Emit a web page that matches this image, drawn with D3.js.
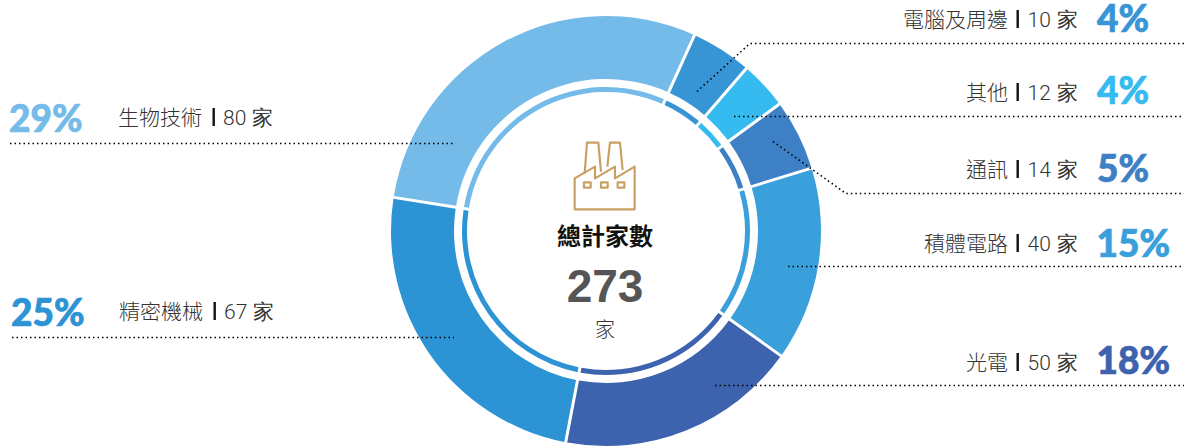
<!DOCTYPE html>
<html><head><meta charset="utf-8">
<script src="https://cdn.jsdelivr.net/npm/d3@7"></script>
<style>html,body{margin:0;padding:0;background:#fff}svg{display:block}</style>
</head><body><svg id="c" width="1184" height="447"></svg>
<script>
// Data
const categories = ["電腦及周邊","其他","通訊","積體電路","光電","精密機械","生物技術"];
const counts = [10,12,14,40,50,67,80];
const percents = ["4%","4%","5%","15%","18%","25%","29%"];
// Drawn sweep of every slice, degrees
const sweeps = [16.5,13,19.2,52.5,65.3,88.2,105.3];
const colors = ["#3795D6","#35BBF0","#3D80C5","#3AA0DB","#3D62AE","#2C93D5","#74BBEA"];
const totalLabel = "總計家數", totalValue = "273", unit = "家";

// Layout
const cx=606, cy=231, rad=Math.PI/180;
const startDeg=24.3;
const labelFont='"Noto Sans CJK TC"', numFont='Roboto', pctFont='Lato';
const rows=[
 {side:"r",base:27,pb:32,pe:1149,line:[[697,91],[750,43],[1184,43]]},
 {side:"r",base:100,pb:104,pe:1149,line:[[734,116],[1184,116]]},
 {side:"r",base:177,pb:182,pe:1149,line:[[773,141],[846,193],[1184,193]]},
 {side:"r",base:251,pb:257,pe:1170,line:[[788,266],[1184,266]]},
 {side:"r",base:370,pb:374,pe:1170,line:[[715,385],[1184,385]]},
 {side:"l",base:319,pb:326,ps:11,lx:119,bar:214,nx:224,line:[[12,337],[454,337]]},
 {side:"l",base:125,pb:132,ps:9,lx:118,bar:213,nx:223,line:[[10,143],[455,143]]}
];

const svg=d3.select("#c");
const pie=d3.pie().sort(null).value(d=>d).startAngle(startDeg*rad).endAngle((startDeg+360)*rad);
const arcs=pie(sweeps);
const g=svg.append("g").attr("transform",`translate(${cx},${cy})`);
const outer=d3.arc().innerRadius(152).outerRadius(215).padRadius(215).padAngle(3/215);
const inner=d3.arc().innerRadius(139).outerRadius(144).padRadius(140).padAngle(3/140);
g.selectAll("path.o").data(arcs).join("path").attr("class","o").attr("d",outer).attr("fill",(d,i)=>colors[i]);
g.selectAll("path.i").data(arcs).join("path").attr("class","i").attr("d",inner).attr("fill",(d,i)=>colors[i]);

// Leader lines
const lineGen=d3.line();
svg.selectAll("path.l").data(rows).join("path").attr("class","l")
  .attr("d",d=>lineGen(d.line)).attr("transform","translate(0,0.5)").attr("fill","none").attr("stroke","#000")
  .attr("stroke-width",1.6).attr("stroke-dasharray","1.5 3");

// Labels
rows.forEach((r,i)=>{
  const t=(x,y,s,a,f,size,w,col)=>svg.append("text").attr("x",x).attr("y",y).attr("text-anchor",a)
    .attr("font-family",f).attr("font-size",size).attr("font-weight",w).attr("fill",col).text(s);
  const lbl=categories[i], num=counts[i]+" "+unit;
  const pct=(x,a)=>t(x,r.pb,percents[i],a,pctFont,37,900,colors[i]).attr("stroke",colors[i]).attr("stroke-width",0.7);
  if(r.side==="r"){
    t(1008,r.base,lbl,"end",labelFont,21,300,"#333");
    svg.append("rect").attr("x",1016.5).attr("y",r.base-17).attr("width",2.4).attr("height",18).attr("fill","#111");
    t(1078,r.base,num,"end",numFont,21,300,"#333").attr("word-spacing",1);
    pct(r.pe,"end");
  } else {
    t(r.lx,r.base,lbl,"start",labelFont,21,300,"#333");
    svg.append("rect").attr("x",r.bar-.5).attr("y",r.base-17).attr("width",2.4).attr("height",18).attr("fill","#111");
    t(r.nx,r.base,num,"start",numFont,21,300,"#333").attr("word-spacing",1);
    pct(r.ps,"start");
  }
});

// Centre
const ic=svg.append("g").attr("transform","translate(520,120) scale(0.3333)")
  .attr("fill","none").attr("stroke","#C9A063").attr("stroke-width",6.5).attr("stroke-linejoin","round");
ic.append("path").attr("d","M164,175V268H344V140L285,175V140L225,175V140L164,175Z");
ic.append("path").attr("d","M194,160L201,68H235L243,155");
ic.append("path").attr("d","M262,140L270,68H300L308,150");
[192,243,293].forEach(x=>ic.append("rect").attr("x",x).attr("y",187).attr("width",20).attr("height",16));
svg.append("text").attr("x",605).attr("y",245).attr("text-anchor","middle").attr("font-family",labelFont)
  .attr("font-size",24).attr("font-weight",700).attr("fill","#111").text(totalLabel);
svg.append("text").attr("x",605).attr("y",302).attr("text-anchor","middle").attr("font-family","Liberation Sans")
  .attr("font-size",46).attr("font-weight",700).attr("fill","#555").text(totalValue);
svg.append("text").attr("x",605).attr("y",337).attr("text-anchor","middle").attr("font-family",labelFont)
  .attr("font-size",20).attr("font-weight",300).attr("fill","#333").text(unit);
</script></body></html>
